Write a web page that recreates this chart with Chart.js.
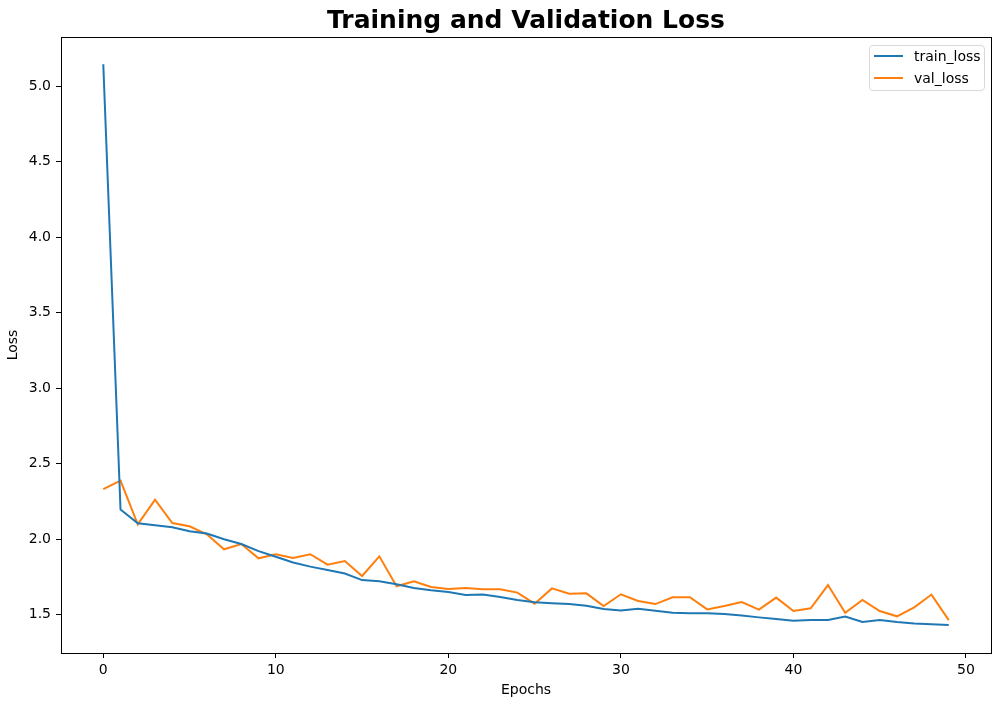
<!DOCTYPE html>
<html>
<head>
<meta charset="utf-8">
<script src="https://cdn.jsdelivr.net/npm/chart.js@4/dist/chart.umd.min.js"></script>
<style>
  html, body { margin: 0; padding: 0; background: #fff; }
  #wrap { position: relative; width: 1001px; height: 706px; }
  #legend {
    position: absolute; left: 869px; top: 45px; width: 114px; height: 44px;
    border: 1px solid #d9d9d9; border-radius: 4px; background: rgba(255,255,255,0.8);
    font-family: "DejaVu Sans", sans-serif; font-size: 14px; color: #000;
  }
  .item { position: absolute; left: 0; height: 20px; line-height: 20px; white-space: nowrap; }
  .swatch { position: absolute; left: 4px; top: 9px; width: 29px; height: 2px; }
  .lbl { position: absolute; left: 44px; top: 0; }
</style>
</head>
<body>
<div id="wrap">
  <canvas id="c" width="1001" height="706"></canvas>
  <div id="legend"></div>
</div>
<script>
const epochs = [0,1,2,3,4,5,6,7,8,9,10,11,12,13,14,15,16,17,18,19,20,21,22,23,24,25,26,27,28,29,30,31,32,33,34,35,36,37,38,39,40,41,42,43,44,45,46,47,48,49];
const trainLoss = [5.145,2.195,2.104,2.091,2.078,2.051,2.036,1.998,1.967,1.920,1.883,1.844,1.817,1.795,1.771,1.728,1.720,1.700,1.675,1.660,1.649,1.629,1.632,1.616,1.596,1.581,1.574,1.569,1.558,1.536,1.527,1.538,1.525,1.512,1.508,1.508,1.503,1.494,1.481,1.470,1.459,1.463,1.463,1.486,1.450,1.463,1.450,1.440,1.435,1.430];
const valLoss = [2.331,2.387,2.097,2.261,2.106,2.084,2.031,1.932,1.967,1.872,1.899,1.874,1.899,1.830,1.854,1.755,1.885,1.687,1.720,1.682,1.669,1.675,1.667,1.667,1.645,1.572,1.673,1.638,1.640,1.556,1.634,1.590,1.569,1.614,1.614,1.534,1.556,1.583,1.532,1.612,1.523,1.541,1.695,1.512,1.596,1.523,1.488,1.547,1.632,1.463];
const seriesNames = ["train_loss", "val_loss"];
const seriesColors = ["#1f77b4", "#ff7f0e"];
const xTicks = [0,10,20,30,40,50];
const yTicks = [1.5,2.0,2.5,3.0,3.5,4.0,4.5,5.0];
const titleText = "Training and Validation Loss";
const xLabel = "Epochs";
const yLabel = "Loss";

const FONT = "'DejaVu Sans', sans-serif";
const toPts = (xs, ys) => xs.map((x, i) => ({x: x, y: ys[i]}));

const boxPlugin = {
  id: 'box',
  afterDatasetsDraw(chart) {
    const a = chart.chartArea, ctx = chart.ctx;
    ctx.save();
    ctx.strokeStyle = '#000';
    ctx.lineWidth = 1;
    ctx.strokeRect(Math.round(a.left) + 0.5, Math.round(a.top) + 0.5, Math.round(a.right - a.left), Math.round(a.bottom - a.top));
    ctx.restore();
  }
};

const chart = new Chart(document.getElementById('c'), {
  type: 'line',
  data: {
    datasets: [
      { label: seriesNames[0], data: toPts(epochs, trainLoss), borderColor: seriesColors[0], backgroundColor: seriesColors[0], borderWidth: 2, pointRadius: 0, tension: 0, fill: false },
      { label: seriesNames[1], data: toPts(epochs, valLoss), borderColor: seriesColors[1], backgroundColor: seriesColors[1], borderWidth: 2, pointRadius: 0, tension: 0, fill: false }
    ]
  },
  options: {
    responsive: false,
    animation: false,
    devicePixelRatio: 1,
    layout: { padding: { left: 0, right: 10, top: 0, bottom: 0 } },
    plugins: {
      legend: { display: false },
      tooltip: { enabled: false },
      title: {
        display: true, text: titleText, color: '#000', fullSize: false,
        font: { family: FONT, size: 25, weight: 'bold', lineHeight: 1.2 },
        padding: { top: 6.4, bottom: 0.6 }
      }
    },
    scales: {
      x: {
        type: 'linear', min: -2.45, max: 51.45,
        afterBuildTicks: s => { s.ticks = xTicks.map(v => ({ value: v })); },
        afterFit: s => { s.height = 53; },
        ticks: { color: '#000', font: { family: FONT, size: 14 }, padding: 4, maxRotation: 0, callback: v => String(v) },
        grid: { display: true, drawOnChartArea: false, drawTicks: true, tickLength: 5, color: '#000', lineWidth: 1 },
        border: { display: true, color: '#000', width: 1 },
        title: { display: true, text: xLabel, color: '#000', font: { family: FONT, size: 14 }, padding: { top: 4, bottom: 7 } }
      },
      y: {
        type: 'linear', min: 1.245, max: 5.325,
        afterBuildTicks: s => { s.ticks = yTicks.map(v => ({ value: v })); },
        afterFit: s => { s.width = 61; },
        ticks: { color: '#000', font: { family: FONT, size: 14 }, padding: 5, callback: v => Number(v).toFixed(1) },
        grid: { display: true, drawOnChartArea: false, drawTicks: true, tickLength: 5, color: '#000', lineWidth: 1 },
        border: { display: true, color: '#000', width: 1 },
        title: { display: true, text: yLabel, color: '#000', font: { family: FONT, size: 14 }, padding: { top: 5, bottom: 4 } }
      }
    }
  },
  plugins: [boxPlugin]
});

// HTML legend built from the chart's datasets
const lg = document.getElementById('legend');
chart.data.datasets.forEach((ds, i) => {
  const it = document.createElement('div');
  it.className = 'item';
  it.style.top = (0 + i * 22.4) + 'px';
  const sw = document.createElement('span');
  sw.className = 'swatch';
  sw.style.background = ds.borderColor;
  const tx = document.createElement('span');
  tx.className = 'lbl';
  tx.textContent = ds.label;
  it.appendChild(sw); it.appendChild(tx);
  lg.appendChild(it);
});
</script>
</body>
</html>
